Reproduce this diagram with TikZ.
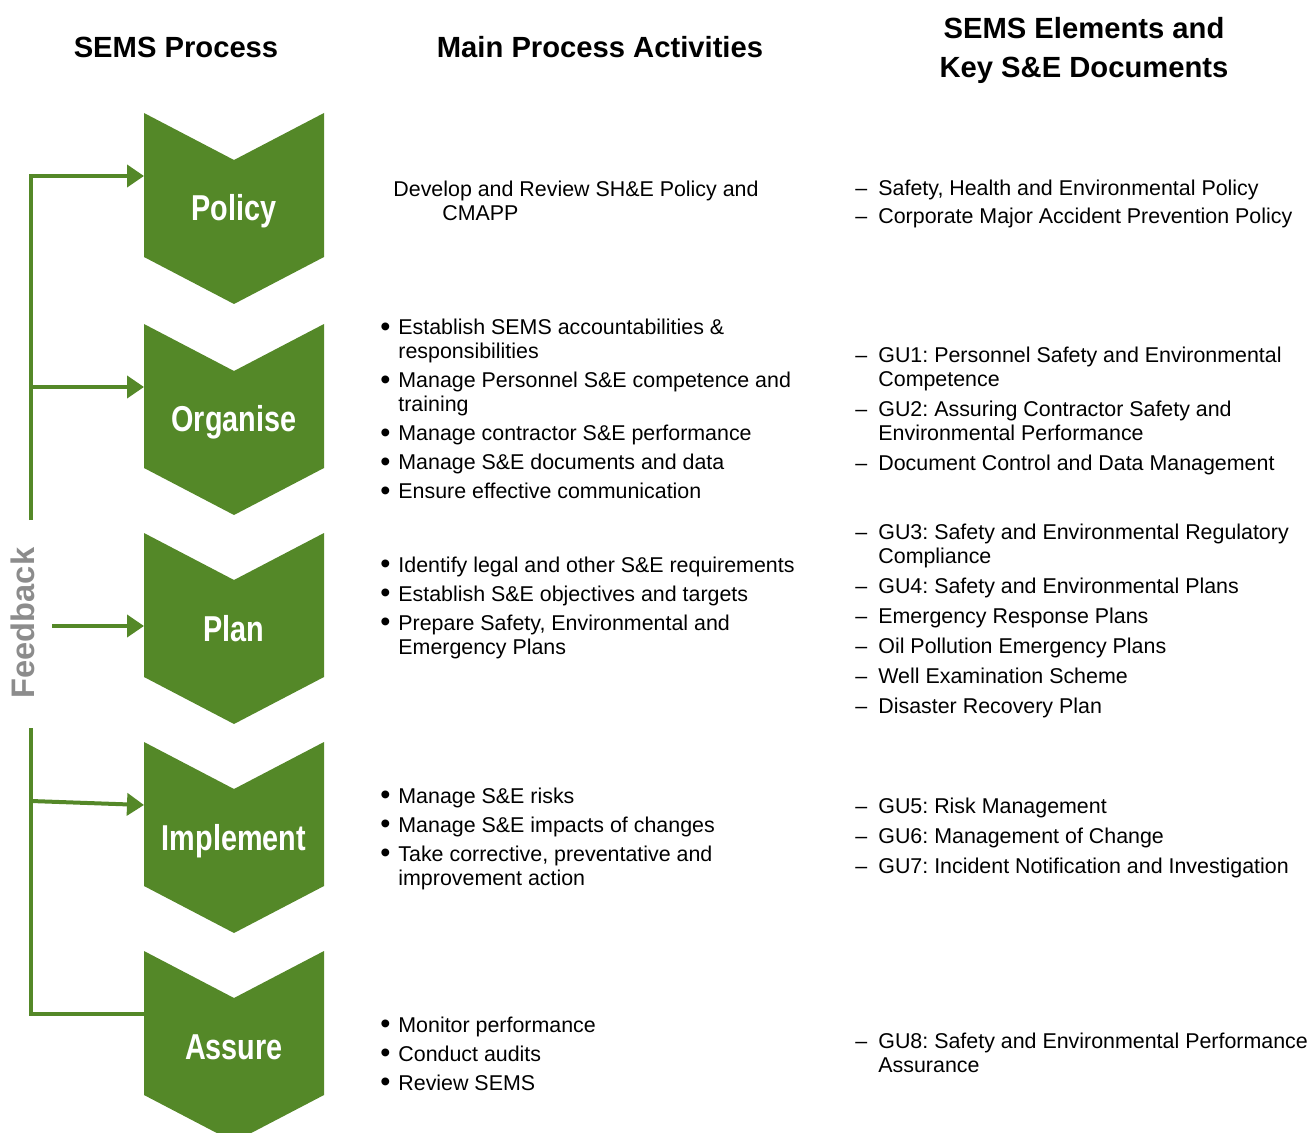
\documentclass[tikz,border=0pt]{standalone}
\usepackage{fontspec}
\setmainfont{Liberation Sans}
\newfontfamily\narrowfont[FakeStretch=0.8]{Liberation Sans}
\usetikzlibrary{arrows.meta,positioning}
\definecolor{semsgreen}{RGB}{84,136,40}
\definecolor{fbgrey}{RGB}{140,140,140}
\frenchspacing
\newcommand\bul{\makebox[9pt][l]{\raisebox{-0.6pt}{\scalebox{1.35}{\textbullet}}}}
\newcommand\dsh{\makebox[11.5pt][l]{\textendash}}
\tikzset{
    heading/.style =    {font=\bfseries\fontsize{14.6}{19.5}\selectfont,
                        align=center},
    chevlabel/.style =  {anchor=base,
                        text=white,
                        inner sep=0pt,
                        font=\narrowfont\bfseries\fontsize{18}{20}\selectfont},
    listtext/.style =   {anchor=base west,
                        inner sep=0pt,
                        font=\fontsize{10.7}{12}\selectfont},
    fbline/.style =     {draw=semsgreen,
                        line width=2pt},
    fbarrow/.style =    {fbline,
                        -{Triangle[length=8.5pt,width=11pt]}},
    fbtext/.style =     {rotate=90,
                        text=fbgrey,
                        font=\bfseries\fontsize{16.3}{18}\selectfont},
    chevron/.pic =      {\fill[semsgreen] (-90,0) -- (0,47) -- (90,0) -- (90,144)
                            -- (0,191) -- (-90,144) -- cycle;
                        \node[chevlabel] (-lbl) at (0,108) {#1};
                        \coordinate (-in) at (-90,63);
                        \coordinate (-mid) at (-90,93);}
}

\begin{document}
\begin{tikzpicture}[x=0.5pt,y=-0.5pt]
    \useasboundingbox (0,0) rectangle (1310,1133);
    % column headings
    \node[heading] (h-process)  at (176,47)  {SEMS Process};
    \node[heading] (h-activity) at (600,47)  {Main Process Activities};
    \node[heading] (h-docs)     at (1084,50) {SEMS Elements and\\Key S\&E Documents};
    % process steps
    \pic (policy)    at (234,113) {chevron=Policy};
    \pic (organise)  at (234,324) {chevron=Organise};
    \pic (plan)      at (234,533) {chevron=Plan};
    \pic (implement) at (234,742) {chevron=Implement};
    \pic (assure)    at (234,951) {chevron=Assure};
    % activities
    \node[listtext] (act-policy) at (393,197) {\begin{tabular}[t]{@{}l@{}}
        Develop and Review SH\&E Policy and\\
        \hspace*{24.5pt}CMAPP
        \end{tabular}};
    \node[listtext] (act-organise) at (380,335) {\begin{tabular}[t]{@{}l@{}l@{}}
        \bul & Establish SEMS accountabilities \&\\
             & responsibilities\\[2.5pt]
        \bul & Manage Personnel S\&E competence and\\
             & training\\[2.5pt]
        \bul & Manage contractor S\&E performance\\[2.5pt]
        \bul & Manage S\&E documents and data\\[2.5pt]
        \bul & Ensure effective communication
        \end{tabular}};
    \node[listtext] (act-plan) at (380,572) {\begin{tabular}[t]{@{}l@{}l@{}}
        \bul & Identify legal and other S\&E requirements\\[2.5pt]
        \bul & Establish S\&E objectives and targets\\[2.5pt]
        \bul & Prepare Safety, Environmental and\\
             & Emergency Plans
        \end{tabular}};
    \node[listtext] (act-implement) at (380,803) {\begin{tabular}[t]{@{}l@{}l@{}}
        \bul & Manage S\&E risks\\[2.5pt]
        \bul & Manage S\&E impacts of changes\\[2.5pt]
        \bul & Take corrective, preventative and\\
             & improvement action
        \end{tabular}};
    \node[listtext] (act-assure) at (380,1032) {\begin{tabular}[t]{@{}l@{}l@{}}
        \bul & Monitor performance\\[2.5pt]
        \bul & Conduct audits\\[2.5pt]
        \bul & Review SEMS
        \end{tabular}};
    % elements and documents
    \node[listtext] (doc-policy) at (855,196) {\begin{tabular}[t]{@{}l@{}l@{}}
        \dsh & Safety, Health and Environmental Policy\\[2pt]
        \dsh & Corporate Major Accident Prevention Policy
        \end{tabular}};
    \node[listtext] (doc-organise) at (855,363) {\begin{tabular}[t]{@{}l@{}l@{}}
        \dsh & GU1: Personnel Safety and Environmental\\
             & Competence\\[3pt]
        \dsh & GU2: Assuring Contractor Safety and\\
             & Environmental Performance\\[3pt]
        \dsh & Document Control and Data Management
        \end{tabular}};
    \node[listtext] (doc-plan) at (855,539) {\begin{tabular}[t]{@{}l@{}l@{}}
        \dsh & GU3: Safety and Environmental Regulatory\\
             & Compliance\\[3pt]
        \dsh & GU4: Safety and Environmental Plans\\[3pt]
        \dsh & Emergency Response Plans\\[3pt]
        \dsh & Oil Pollution Emergency Plans\\[3pt]
        \dsh & Well Examination Scheme\\[3pt]
        \dsh & Disaster Recovery Plan
        \end{tabular}};
    \node[listtext] (doc-implement) at (855,813) {\begin{tabular}[t]{@{}l@{}l@{}}
        \dsh & GU5: Risk Management\\[3pt]
        \dsh & GU6: Management of Change\\[3pt]
        \dsh & GU7: Incident Notification and Investigation
        \end{tabular}};
    \node[listtext] (doc-assure) at (855,1048) {\begin{tabular}[t]{@{}l@{}l@{}}
        \dsh & GU8: Safety and Environmental Performance\\
             & Assurance
        \end{tabular}};
    % feedback loop
    \node[fbtext] (feedback) at (23,623) {Feedback};
    \coordinate (fb-top)  at (31,520);
    \coordinate (fb-bot)  at (31,728);
    \coordinate (fb-plan) at (52,626);
    \coordinate (fb-impl) at (31,801);
    \draw[fbarrow] (fb-top) -- (fb-top |- policy-in) -- (policy-in);
    \draw[fbarrow] (fb-top |- organise-in) -- (organise-in);
    \draw[fbarrow] (fb-plan) -- (plan-mid);
    \draw[fbarrow] (fb-impl) -- (implement-in);
    \draw[fbline]  (assure-in) -- (fb-bot |- assure-in) -- (fb-bot);
\end{tikzpicture}
\end{document}
